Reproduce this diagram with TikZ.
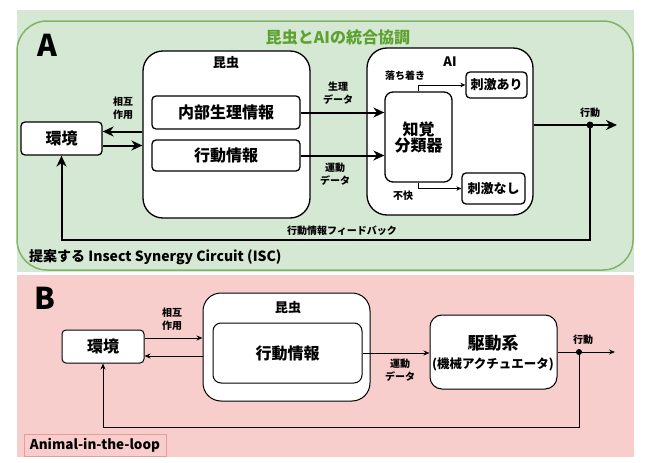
\documentclass[tikz,border=0pt]{standalone}
\usepackage{fontspec}
\setmainfont{Noto Sans CJK JP}
\usepackage{tikz}
\usetikzlibrary{arrows.meta}

\definecolor{bgA}{HTML}{D5E8D4}
\definecolor{edgeA}{HTML}{82B366}
\definecolor{titleA}{HTML}{5DA12F}
\definecolor{bgB}{HTML}{F8CECC}
\definecolor{edgeB}{HTML}{EA9A98}

\newcommand{\fs}[1]{\fontsize{#1}{#1}\selectfont}

\begin{document}
\begin{tikzpicture}[x=1pt,y=-1pt,
    boxA/.style={draw,line width=1.3pt,fill=white,rounded corners=4pt,
        inner sep=0pt,font=\bfseries\fs{16}},
    boxB/.style={draw,line width=1pt,fill=white,rounded corners=4pt,
        inner sep=0pt,font=\bfseries\fs{16}},
    lineA/.style={line width=2pt,-{Stealth[length=11pt,width=10pt]}},
    lineAi/.style={line width=0.9pt,-{Stealth[length=5pt,width=4.5pt]}},
    lineB/.style={line width=1pt,-{Stealth[length=6pt,width=5pt]}},
    lbl/.style={font=\bfseries\fontsize{10}{12.5}\selectfont,align=center,inner sep=0pt}]
    \useasboundingbox (0,0) rectangle (649,463);

    \fill[bgA] (17,10) rectangle (634,272);
    \draw[edgeA,line width=1.5pt,rounded corners=30pt] (17,21) rectangle (633,270);
    \fill[bgB] (17,275) rectangle (634,457);

    \node[font=\bfseries\fs{30}] (labA) at (47,45) {A};
    \node[font=\bfseries\fs{16},text=titleA] (ttlA) at (338,37) {昆虫とAIの統合協調};

    \node[boxA,minimum width=81pt,minimum height=33pt] (envA) at (61.5,138.5) {環境};
    \node[boxA,rounded corners=20pt,minimum width=167pt,minimum height=167pt] (insA) at (226.5,134.5) {};
    \node[font=\bfseries\fs{13}] (insAt) at (226,63) {昆虫};
    \node[boxA,minimum width=148pt,minimum height=33pt] (physA) at (226,112.5) {内部生理情報};
    \node[boxA,minimum width=148pt,minimum height=31pt] (actA) at (226,155.5) {行動情報};

    \node[boxA,rounded corners=20pt,minimum width=166pt,minimum height=167pt] (aiA) at (450,131.5) {};
    \node[font=\bfseries\fs{13}] (aiAt) at (450,62) {AI};
    \node[boxA,rounded corners=8pt,minimum width=67pt,minimum height=90pt,align=center] (clsA) at (418.5,137) {知覚\\分類器};
    \node[boxA,font=\bfseries\fs{13},minimum width=61pt,minimum height=26pt] (yesA) at (496.5,85) {刺激あり};
    \node[boxA,font=\bfseries\fs{13},minimum width=63pt,minimum height=31pt] (noA) at (493.5,188.5) {刺激なし};

    \coordinate (e1) at ([yshift=7pt]envA.east);
    \coordinate (e2) at ([yshift=-7pt]envA.east);
    \draw[lineA] (e1 -| insA.west) -- (e1);
    \draw[lineA] (e2) -- (e2 -| insA.west);
    \draw[lineA] (physA.east) -- (physA.east -| clsA.west);
    \draw[lineA] (actA.east) -- (actA.east -| clsA.west);
    \draw[lineAi] (clsA.north) |- (yesA.west);
    \draw[lineAi] (clsA.south) |- (noA.west);

    \coordinate (outA) at (617,125);
    \coordinate (dotA) at (590,125);
    \coordinate (fbA) at (0,240);
    \draw[lineA] (aiA.east |- outA) -- (outA);
    \draw[lineA] (dotA) |- (fbA -| envA.south) -- (envA.south);
    \fill (dotA) circle (3.5pt);

    \node[lbl] (ia) at (123,108) {相互\\作用};
    \node[lbl] (pd) at (338,93) {生理\\データ};
    \node[lbl] (md) at (335,174) {運動\\データ};
    \node[lbl] (calm) at (405,76) {落ち着き};
    \node[lbl] (bad) at (403,196) {不快};
    \node[lbl] (outAt) at (590,113) {行動};
    \node[lbl] (fbAt) at (342,231) {行動情報フィードバック};
    \node[font=\bfseries\fs{14},anchor=west,inner sep=0pt] (isc) at (29,257) {提案する Insect Synergy Circuit (ISC)};

    \node[font=\bfseries\fs{30}] (labB) at (45,298) {B};
    \node[boxB,minimum width=82pt,minimum height=33pt] (envB) at (103,346.5) {環境};
    \node[boxB,rounded corners=18pt,minimum width=167pt,minimum height=108pt] (insB) at (286.5,347) {};
    \node[font=\bfseries\fs{13}] (insBt) at (288,308) {昆虫};
    \node[boxB,rounded corners=8pt,minimum width=149pt,minimum height=60pt] (actB) at (287.5,353) {行動情報};
    \node[boxB,rounded corners=12pt,minimum width=127pt,minimum height=74pt] (drvB) at (493.5,352) {};
    \node[font=\bfseries\fs{17}] (drvBt) at (493,343) {駆動系};
    \node[font=\bfseries\fs{12.5}] (drvBs) at (493,364) {(機械アクチュエータ)};

    \coordinate (f1) at ([yshift=8.5pt]envB.east);
    \coordinate (f2) at ([yshift=-9.5pt]envB.east);
    \draw[lineB] (f1) -- (f1 -| insB.west);
    \draw[lineB] (f2 -| insB.west) -- (f2);
    \draw[lineB] (actB.east) -- (actB.east -| drvB.west);

    \coordinate (outB) at (615,352);
    \coordinate (dotB) at (579,352);
    \coordinate (fbB) at (0,427);
    \draw[lineB] (drvB.east) -- (outB);
    \draw[lineB] (dotB) |- (fbB -| envB.south) -- (envB.south);
    \fill (dotB) circle (3pt);

    \node[lbl] (iaB) at (172,319) {相互\\作用};
    \node[lbl] (mdB) at (400,370) {運動\\データ};
    \node[lbl] (outBt) at (583,340) {行動};
    \node[draw=edgeB,line width=0.8pt,font=\bfseries\fs{13.5},minimum width=142pt,minimum height=22pt,inner sep=0pt] (ail) at (95,445) {Animal-in-the-loop};
\end{tikzpicture}
\end{document}
